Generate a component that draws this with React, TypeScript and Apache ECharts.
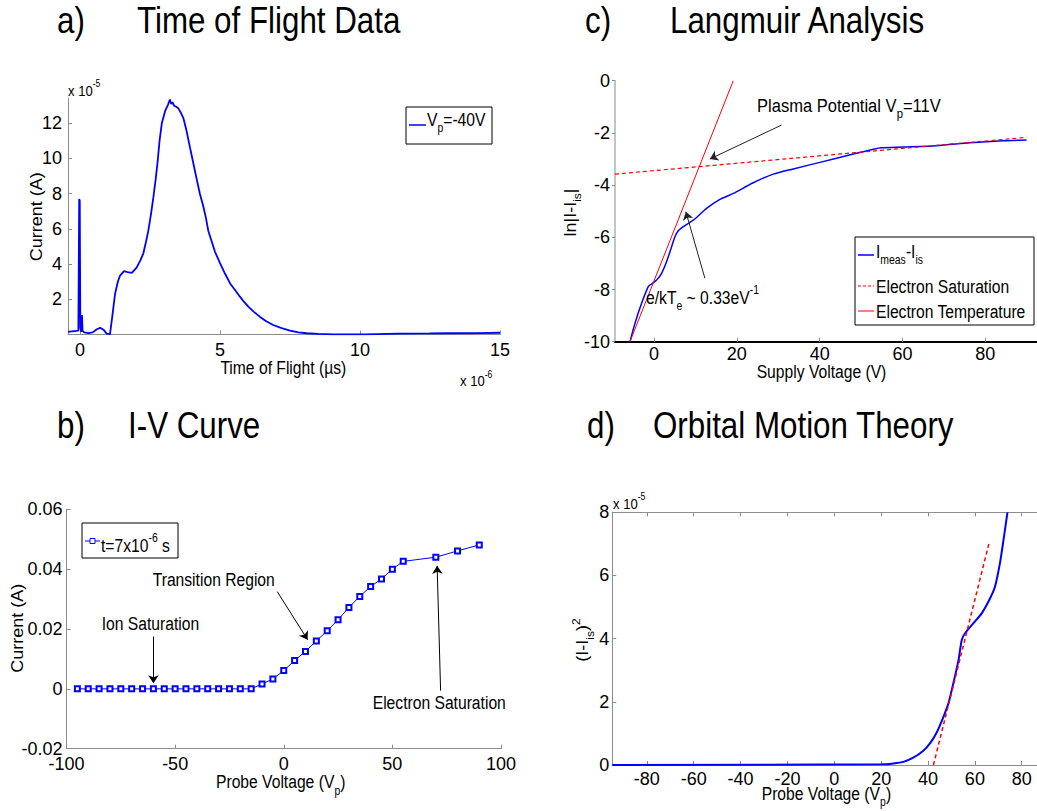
import { useEffect, useRef } from 'react';
import * as echarts from 'echarts';

const FONT = '"Liberation Sans", Arial, Helvetica, sans-serif';
const BLUE = '#0000ff';
const RED = '#ff0000';
const AXIS_GREY = '#8c8c8c';
const SX = 0.87; // horizontal squeeze of the figure's lettering

// (a) time-of-flight trace: time in units of 1e-6 s, current in units of 1e-5 A
const tofTime = [
  -0.43, -0.3, -0.15, -0.06, -0.03, -0.01, 0.01, 0.04, 0.07, 0.09, 0.15, 0.3, 0.45, 0.6, 0.72, 0.85,
  0.95, 1.07, 1.15, 1.25, 1.35, 1.43, 1.57, 1.7, 1.85, 2.02, 2.15, 2.26, 2.36, 2.44, 2.54, 2.62, 2.7,
  2.77, 2.84, 2.92, 3.04, 3.14, 3.21, 3.26, 3.3, 3.36, 3.42, 3.51, 3.6, 3.69, 3.8, 3.93, 4.05, 4.17,
  4.28, 4.4, 4.5, 4.58, 4.7, 4.82, 5.0, 5.18, 5.36, 5.55, 5.71, 5.86, 6.01, 6.2, 6.43, 6.65, 6.9, 7.2,
  7.5, 7.8, 8.1, 8.5, 9.05, 10.2, 11.4, 12.5, 13.2, 14.2, 15.0,
];
const tofCurrent = [
  0.15, 0.18, 0.2, 0.22, 7.7, 7.6, 0.4, 0.15, 1.1, 0.2, 0.12, 0.08, 0.12, 0.3, 0.38, 0.25,
  0.05, 0.02, 1.0, 2.3, 3.0, 3.35, 3.6, 3.55, 3.5, 3.8, 4.2, 4.6, 5.3, 5.9, 6.9, 7.8, 8.8,
  9.8, 11.0, 12.0, 12.7, 13.05, 13.35, 13.1, 13.2, 13.0, 12.95, 12.85, 12.6, 12.3, 11.6, 10.6, 9.7, 8.8,
  8.0, 7.3, 6.6, 5.9, 5.3, 4.7, 4.05, 3.45, 2.9, 2.5, 2.15, 1.85, 1.58, 1.3, 1.0, 0.75, 0.54, 0.36,
  0.22, 0.12, 0.07, 0.03, 0.01, 0.01, 0.05, 0.06, 0.07, 0.08, 0.1,
];

// (b) I-V sweep at t = 7 µs
const ivVoltage = [
  -95, -90, -85, -80, -75, -70, -65, -60, -55, -50, -45, -40, -35, -30, -25, -20, -15,
  -10, -5, 0, 5, 10, 15, 20, 25, 30, 35, 40, 45, 50, 55, 70, 80, 90,
];
const ivCurrent = [
  0, 0, 0, 0, 0, 0, 0, 0, 0, 0, 0, 0, 0, 0, 0, 0, 0,
  0.0016, 0.0033, 0.0061, 0.0095, 0.0125, 0.016, 0.0194, 0.0231, 0.0272, 0.0309, 0.0342, 0.0367,
  0.04, 0.0426, 0.044, 0.0461, 0.0481,
];

// (c) Langmuir analysis: ln|I - I_is| against supply voltage, with two straight fits
const lnVoltage = [
  -5.79, -4.59, -2.98, -1.37, -0.56, 0.64, 1.85, 3.06, 4.26, 5.07, 5.87, 7.08, 8.69, 10.3, 12.71,
  15.93, 19.15, 23.97, 28.8, 33.63, 40.06, 48.11, 52.94, 54.79, 60.18, 68.22, 76.27, 84.31, 89.94,
];
const lnCurrent = [
  -10, -9.3, -8.53, -7.89, -7.79, -7.64, -7.38, -6.93, -6.36, -5.98, -5.75, -5.59, -5.43, -5.24, -4.89,
  -4.55, -4.32, -3.91, -3.58, -3.38, -3.13, -2.81, -2.63, -2.57, -2.54, -2.49, -2.38, -2.3, -2.27,
];
const satFitVoltage = [-9.41, 89.94];
const satFitLn = [-3.58, -2.17];
const tempFitVoltage = [-5.79, 19.15];
const tempFitLn = [-10, 0];

// (d) orbital motion theory: (I - I_is)^2 in units of 1e-5
const omlVoltage = [
  -94.75, 20.2, 25.2, 29.5, 33.7, 38.0, 40.9, 43.7, 46.5, 48.7, 50.8, 53.0, 54.4, 55.8, 59.4, 62.9,
  66.5, 68.6, 70.7, 72.2, 73.9,
];
const omlSquare = [
  0, 0.02, 0.05, 0.1, 0.23, 0.45, 0.69, 1.03, 1.51, 1.95, 2.59, 3.32, 3.96, 4.17, 4.49, 4.8,
  5.28, 5.65, 6.39, 7.12, 8.0,
];
const omlFitVoltage = [42.3, 66.2];
const omlFitSquare = [0, 7.07];

// tick positions
const tofTimeTicks = [0, 5, 10, 15];
const tofCurrentTicks = [2, 4, 6, 8, 10, 12];
const lnVoltageTicks = [0, 20, 40, 60, 80];
const omlVoltageTicks = [-80, -60, -40, -20, 0, 20, 40, 60, 80];

// annotation arrows, [tail, head] in data coordinates
const ivArrows = [
  [[-60, 0.0175], [-60, 0.0019]],
  [[-3, 0.0325], [11, 0.0164]],
  [[72.2, -0.0006], [70.6, 0.0411]],
];
const lnArrows = [
  [[30.8, -1.7], [13.5, -3.0]],
  [[12.3, -7.57], [7.7, -5.02]],
];

const zip = (xs: number[], ys: number[]) => xs.map((x, i) => [x, ys[i]]);

// n = normal run, b = subscript, t = superscript
const richStyles = (fs: number) => {
  const s = Math.round(fs * 0.68);
  const p = Math.round(fs * 0.22);
  const h = Math.round(fs * 1.1);
  const base = { fontFamily: FONT, fill: '#000', color: '#000' };
  return {
    n: { ...base, fontSize: fs, lineHeight: h + 2 * p, verticalAlign: 'middle' },
    b: { ...base, fontSize: s, lineHeight: s, verticalAlign: 'bottom' },
    t: { ...base, fontSize: s, lineHeight: s, verticalAlign: 'top' },
  };
};

const text = (content: string, x: number, y: number, fs: number, align = 'left', rotate = false) => ({
  type: 'text',
  x,
  y,
  z: 100,
  rotation: rotate ? Math.PI / 2 : 0,
  scaleX: rotate ? 1 : SX,
  scaleY: rotate ? SX : 1,
  style: {
    text: content,
    fontSize: fs,
    fontFamily: FONT,
    fill: '#000',
    align,
    textAlign: align,
    verticalAlign: 'middle',
    textVerticalAlign: 'middle',
    rich: richStyles(fs),
  },
});

const line = (x1: number, y1: number, x2: number, y2: number, stroke: string, lineWidth = 1, lineDash?: number[]) => ({
  type: 'line',
  z: 101,
  shape: { x1, y1, x2, y2 },
  style: { stroke, lineWidth, lineDash },
});

const box = (x: number, y: number, width: number, height: number) => ({
  type: 'rect',
  z: 100,
  shape: { x, y, width, height },
  style: { fill: '#fff', stroke: '#000', lineWidth: 1 },
});

const tickLabel = { fontSize: 18, fontFamily: FONT, color: '#000' };

const axisOf = (gridIndex: number, min: number, max: number, extra: any = {}) => ({
  type: 'value',
  gridIndex,
  min,
  max,
  splitLine: { show: false },
  axisLine: { show: true, onZero: false, lineStyle: { color: AXIS_GREY, width: 1 } },
  axisTick: { show: true, inside: true, length: 4, lineStyle: { color: AXIS_GREY } },
  axisLabel: { ...tickLabel, margin: 6 },
  ...extra,
});

const customTicks = (values: number[], margin: number) => ({
  axisTick: { show: true, inside: true, length: 4, customValues: values, lineStyle: { color: AXIS_GREY } },
  axisLabel: { ...tickLabel, margin, customValues: values },
});

const arrowMarks = (arrows: number[][][], color: string) => ({
  silent: true,
  symbol: ['none', 'arrow'],
  symbolSize: 8,
  label: { show: false },
  emphasis: { disabled: true },
  lineStyle: { color, width: 1, type: 'solid' },
  data: arrows.map(([a, b]) => [{ coord: a }, { coord: b }]),
});

export default function App() {
  const ref = useRef<HTMLDivElement>(null);

  useEffect(() => {
    if (!ref.current) return;
    const chart = echarts.init(ref.current, undefined, { renderer: 'svg' });

    const grid = [
      { left: 68, top: 98.3, width: 432, height: 236.2 },
      { left: 66.5, top: 509.3, width: 434.5, height: 239.4 },
      { left: 615, top: 80.7, width: 422, height: 261 },
      { left: 612.3, top: 512.3, width: 424.7, height: 252.7 },
    ].map((g) => ({ ...g, containLabel: false, outerBoundsMode: 'none' }));

    const option: any = {
      animation: false,
      backgroundColor: '#fff',
      grid,
      xAxis: [
        axisOf(0, -0.43, 15, customTicks(tofTimeTicks, 6)),
        axisOf(1, -100, 100, { interval: 50 }),
        axisOf(2, -9.4, 92.46, {
          ...customTicks(lnVoltageTicks, 3),
          axisLine: { show: true, onZero: false, lineStyle: { color: '#000', width: 2 } },
        }),
        axisOf(3, -94.75, 86.51, customTicks(omlVoltageTicks, 5)),
        axisOf(3, -94.75, 86.51, {
          position: 'top',
          axisTick: { show: true, inside: true, length: 4, customValues: omlVoltageTicks, lineStyle: { color: AXIS_GREY } },
          axisLabel: { show: false },
        }),
      ],
      yAxis: [
        axisOf(0, 0, 13.42, customTicks(tofCurrentTicks, 6)),
        axisOf(1, -0.02, 0.06, {
          interval: 0.02,
          axisLabel: {
            ...tickLabel,
            margin: 4,
            formatter: (v: number) => (Math.abs(v) < 1e-9 ? '0' : v.toFixed(2)),
          },
        }),
        axisOf(2, -10, 0, {
          interval: 2,
          axisLine: { show: true, onZero: false, lineStyle: { color: '#c4c4c4', width: 2 } },
          axisTick: { show: true, inside: false, length: 3, lineStyle: { color: AXIS_GREY } },
          axisLabel: { ...tickLabel, margin: 5 },
        }),
        axisOf(3, 0, 8, { interval: 2, axisLabel: { ...tickLabel, margin: 3 } }),
      ],
      series: [
        {
          type: 'line',
          xAxisIndex: 0,
          yAxisIndex: 0,
          data: zip(tofTime, tofCurrent),
          symbol: 'none',
          silent: true,
          lineStyle: { color: BLUE, width: 1.8 },
        },
        {
          type: 'line',
          xAxisIndex: 1,
          yAxisIndex: 1,
          data: zip(ivVoltage, ivCurrent),
          symbol: 'emptyRect',
          symbolSize: 5,
          silent: true,
          lineStyle: { color: BLUE, width: 1 },
          itemStyle: { color: BLUE, borderColor: BLUE, borderWidth: 1 },
          markLine: arrowMarks(ivArrows, '#000'),
        },
        {
          type: 'line',
          xAxisIndex: 2,
          yAxisIndex: 2,
          data: zip(lnVoltage, lnCurrent),
          symbol: 'none',
          smooth: 0.25,
          silent: true,
          lineStyle: { color: BLUE, width: 1.5 },
          markLine: arrowMarks(lnArrows, '#222'),
        },
        {
          type: 'line',
          xAxisIndex: 2,
          yAxisIndex: 2,
          data: zip(satFitVoltage, satFitLn),
          symbol: 'none',
          silent: true,
          lineStyle: { color: RED, width: 1.2, type: [4, 3] },
        },
        {
          type: 'line',
          xAxisIndex: 2,
          yAxisIndex: 2,
          data: zip(tempFitVoltage, tempFitLn),
          symbol: 'none',
          silent: true,
          lineStyle: { color: RED, width: 1 },
        },
        {
          type: 'line',
          xAxisIndex: 3,
          yAxisIndex: 3,
          data: zip(omlVoltage, omlSquare),
          symbol: 'none',
          smooth: 0.25,
          silent: true,
          lineStyle: { color: BLUE, width: 2 },
        },
        {
          type: 'line',
          xAxisIndex: 3,
          yAxisIndex: 3,
          data: zip(omlFitVoltage, omlFitSquare),
          symbol: 'none',
          silent: true,
          lineStyle: { color: RED, width: 1.5, type: [4, 3] },
        },
      ],
      graphic: [
        // panel titles
        text('a)', 57, 20, 36),
        text('Time of Flight Data', 137, 20, 36),
        text('c)', 585, 20, 36),
        text('Langmuir Analysis', 670, 20, 36),
        text('b)', 57, 425.5, 36),
        text('I-V Curve', 128, 425.5, 36),
        text('d)', 587, 425.5, 36),
        text('Orbital Motion Theory', 653, 425.5, 36),

        // axis multipliers
        text('{n|x 10}{t|-5}', 68, 90.5, 15),
        text('{n|x 10}{t|-6}', 460, 381, 15),
        text('{n|x 10}{t|-5}', 613, 503.5, 15),

        // axis names
        text('Time of Flight (µs)', 283.3, 368.3, 18, 'center'),
        text('Current (A)', 36.7, 216.7, 18, 'center', true),
        text('{n|Probe Voltage (V}{b|p}{n|)}', 216, 782.5, 18),
        text('Current (A)', 18.3, 628.3, 18, 'center', true),
        text('Supply Voltage (V)', 821.5, 372.5, 18, 'center'),
        text('{n|ln|I-I}{b|is}{n||}', 570.5, 212.5, 18, 'center', true),
        text('{n|(I-I}{b|is}{n|)}{t|2}', 583, 640, 18, 'center', true),
        text('{n|Probe Voltage (V}{b|p}{n|)}', 761.7, 794, 18),

        // annotations
        text('{n|Plasma Potential V}{b|p}{n|=11V}', 757, 105.5, 19),
        text('{n|e/kT}{b|e}{n| ~ 0.33eV}{t|-1}', 646, 298, 18),
        text('Ion Saturation', 101.7, 624, 18),
        text('Transition Region', 152.7, 580, 18),
        text('Electron Saturation', 372.7, 703, 18),

        // legend (a)
        box(406, 107, 86, 37),
        line(409, 125, 426, 125, BLUE, 1.5),
        text('{n|V}{b|p}{n|=-40V}', 427, 120, 18),

        // legend (b)
        box(82, 523, 96, 35),
        line(85, 541, 100, 541, BLUE, 1),
        { type: 'rect', z: 102, shape: { x: 90, y: 538.5, width: 5, height: 5 }, style: { fill: '#fff', stroke: BLUE, lineWidth: 1 } },
        text('{n|t=7x10}{t|-6}{n| s}', 101, 546, 18),

        // legend (c)
        box(855, 237, 179, 88),
        line(858, 255, 874, 255, BLUE, 1.5),
        text('{n|I}{b|meas}{n|-I}{b|is}', 876, 252, 18),
        line(858, 286, 874, 286, RED, 1, [3, 2]),
        text('Electron Saturation', 876, 287, 18),
        line(858, 311, 874, 311, RED, 1),
        text('Electron Temperature', 876, 312, 18),
      ],
    };

    chart.setOption(option);
    return () => chart.dispose();
  }, []);

  return (
    <div
      ref={ref}
      style={{ position: 'absolute', left: 0, top: 0, width: 1037, height: 811, background: '#fff' }}
    />
  );
}
